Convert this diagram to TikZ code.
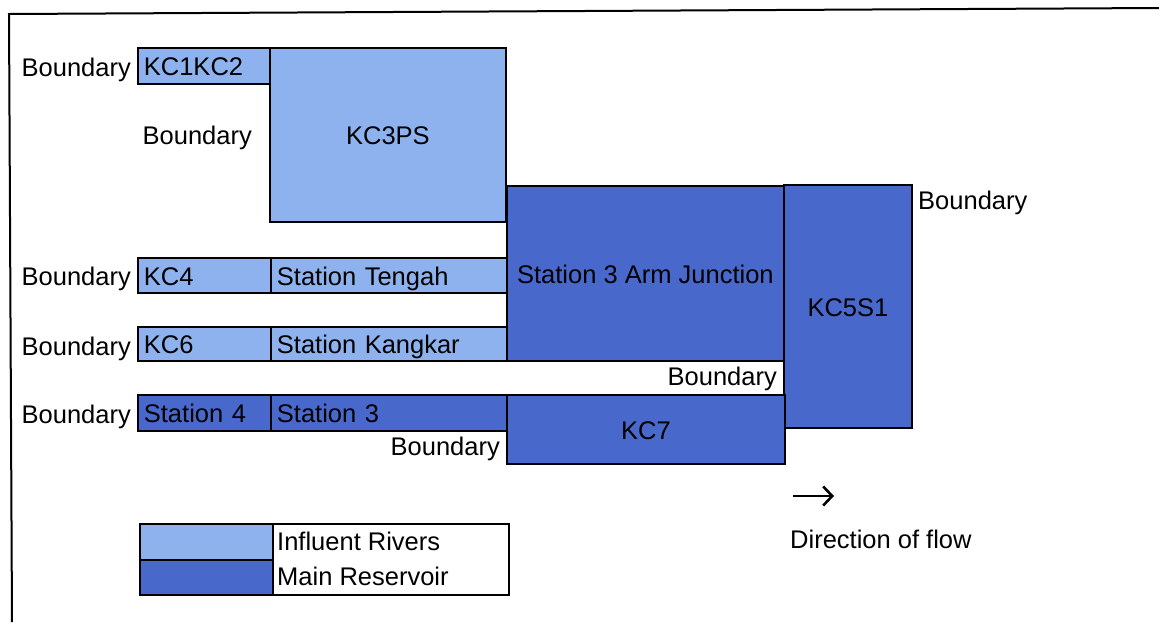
\documentclass[tikz,border=0pt]{standalone}
\usepackage{fontspec}
\setmainfont{Liberation Sans}
\usetikzlibrary{arrows.meta}
\definecolor{lightriver}{RGB}{141,178,238}
\definecolor{darkres}{RGB}{72,104,204}
\tikzset{
  cell/.style={draw=black, line width=1.8pt, inner sep=0pt, anchor=north west,
    text height=20pt, text depth=0pt, font=\fontsize{25.5}{30}\selectfont},
  lcell/.style={cell, align=left, inner xsep=6pt, text width=#1},
  light/.style={fill=lightriver},
  dark/.style={fill=darkres},
  lbl/.style={inner sep=0pt, font=\fontsize{25.5}{30}\selectfont},
  frameline/.style={draw=black, line width=2pt},
}
\begin{document}
\begin{tikzpicture}[x=1pt,y=-1pt]
\useasboundingbox (0,0) rectangle (1159,622);
% frame (cropped)
\coordinate (fb) at (12,622);
\coordinate (ftl) at (9,14);
\coordinate (ftr) at (1159,8);
\draw[frameline] (fb) -- (ftl) -- (ftr);

% influent rivers (light)
\node[lcell=120pt, light, minimum width=132pt, minimum height=36pt] (kc12) at (137,47) {KC1KC2};
\node[cell, light, minimum width=236pt, minimum height=174pt] (kc3ps) at (269,47) {KC3PS};
\node[lcell=121pt, light, minimum width=133pt, minimum height=35pt] (kc4) at (137,257) {KC4};
\node[lcell=224pt, light, minimum width=236pt, minimum height=35pt] (tengah) at (270,257) {Station Tengah};
\node[lcell=121pt, light, minimum width=133pt, minimum height=34pt] (kc6) at (137,326) {KC6};
\node[lcell=224pt, light, minimum width=236pt, minimum height=34pt] (kangkar) at (270,326) {Station Kangkar};

% main reservoir (dark)
\node[lcell=121pt, dark, minimum width=133pt, minimum height=36pt] (st4) at (137,394) {Station 4};
\node[lcell=224pt, dark, minimum width=236pt, minimum height=36pt] (st3) at (270,394) {Station 3};
\node[cell, dark, minimum width=277pt, minimum height=175pt] (junction) at (506,185) {Station 3 Arm Junction};
\node[cell, dark, minimum width=128pt, minimum height=243pt] (kc5s1) at (783,184) {KC5S1};
\node[cell, dark, minimum width=278pt, minimum height=69pt] (kc7) at (506,394) {KC7};

% boundary labels
\node[lbl, anchor=base east] (b1) at (131,76) {Boundary};
\node[lbl, anchor=base east] (b2) at (252,144) {Boundary};
\node[lbl, anchor=base west] (b3) at (918,209) {Boundary};
\node[lbl, anchor=base east] (b4) at (131,285) {Boundary};
\node[lbl, anchor=base east] (b5) at (131,355) {Boundary};
\node[lbl, anchor=base east] (b6) at (777,385) {Boundary};
\node[lbl, anchor=base east] (b7) at (131,423) {Boundary};
\node[lbl, anchor=base east] (b8) at (500,455) {Boundary};

% direction of flow
\coordinate (arrs) at (793,496);
\coordinate (arre) at (834,496);
\draw[line width=2.4pt, -{Straight Barb[length=9pt,width=19pt,line width=2.6pt]}] (arrs) -- (arre);
\node[lbl, anchor=base west] (dir) at (790,548) {Direction of flow};

% legend
\node[cell, light, minimum width=133pt, minimum height=36pt] (lg1) at (139,523) {};
\node[cell, dark, minimum width=133pt, minimum height=35pt] (lg2) at (139,559) {};
\node[cell, fill=white, minimum width=236pt, minimum height=71pt] (lgt) at (272,523) {};
\node[lbl, anchor=base west] (lt1) at (277,550) {Influent Rivers};
\node[lbl, anchor=base west] (lt2) at (277,585) {Main Reservoir};
\end{tikzpicture}
\end{document}
